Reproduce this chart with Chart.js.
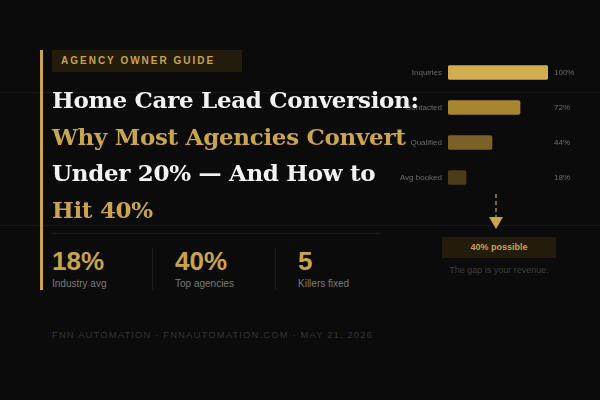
<!DOCTYPE html><html><head><meta charset="utf-8">
<script src="https://cdn.jsdelivr.net/npm/chart.js@4"></script>
<style>
body{margin:0;width:600px;height:400px;background:#0b0b0b;overflow:hidden;position:relative;font-family:"Liberation Sans",Arial,sans-serif}
.a{position:absolute}
#cw{left:390px;top:55px;width:210px;height:140px}
h1{position:absolute;left:52px;top:82px;margin:0;font-family:"DejaVu Serif",Georgia,serif;font-weight:bold;font-size:23px;line-height:36.5px;color:#f2f2f2;z-index:3;letter-spacing:-0.3px;white-space:nowrap}
.g{color:#caa54d}
</style></head><body>
<div class="a" style="left:0;top:92px;width:600px;height:1px;background:#161616"></div>
<div class="a" style="left:0;top:225px;width:600px;height:1px;background:#161616"></div>
<div class="a" style="left:40px;top:50px;width:3px;height:240px;background:#c9a449"></div>
<div class="a" style="left:52px;top:50px;width:190px;height:22px;background:#231b0c;color:#c9a449;font-size:10px;font-weight:bold;letter-spacing:2px;line-height:22px;text-indent:9px">AGENCY OWNER GUIDE</div>
<div class="a" id="cw"><canvas id="c"></canvas></div>
<h1>Home Care Lead Conversion:<br><span class="g">Why Most Agencies Convert</span><br>Under 20% — And How to<br><span class="g">Hit 40%</span></h1>
<div class="a" style="left:52px;top:233px;width:328px;height:1px;background:#1c1c1c"></div>
<div class="a" style="left:152px;top:248px;width:1px;height:42px;background:#1c1c1c"></div>
<div class="a" style="left:275px;top:248px;width:1px;height:42px;background:#1c1c1c"></div>
<div id="stats"></div>
<svg class="a" style="left:485px;top:192px" width="22" height="40"><line x1="11" y1="2" x2="11" y2="26" stroke="#7a6630" stroke-width="2" stroke-dasharray="4,3"/><polygon points="4,25 18,25 11,37" fill="#c9a449"/></svg>
<div class="a" style="left:442px;top:237px;width:114px;height:21px;background:#231b0c;color:#c9a449;font-size:9px;font-weight:bold;text-align:center;line-height:21px">40% possible</div>
<div class="a" style="left:440px;top:265px;width:118px;text-align:center;color:#3f3f3f;font-size:9px">The gap is your revenue.</div>
<div class="a" style="left:52px;top:329px;color:#333;font-size:9.5px;letter-spacing:1.1px">FNN AUTOMATION · FNNAUTOMATION.COM · MAY 21, 2026</div>
<script>
const categories=["Inquiries","Contacted","Qualified","Avg booked"];
const values=[100,72,44,18];
const barColors=["#d2ae50","#a8852f","#7a6126","#4c3c1a"];
const statValues=["18%","40%","5"];
const statLabels=["Industry avg","Top agencies","Killers fixed"];
const sx=[52,175,298];
document.getElementById('stats').innerHTML=statValues.map((v,i)=>`<div class="a" style="left:${sx[i]}px;top:246px;color:#c9a449;font-size:26px;font-weight:bold;line-height:30px">${v}</div><div class="a" style="left:${sx[i]}px;top:278px;color:#7a7a7a;font-size:10px">${statLabels[i]}</div>`).join('');
const lbl={id:'lbl',afterDatasetsDraw(ch){const c=ch.ctx,m=ch.getDatasetMeta(0);c.save();c.font='8px "Liberation Sans",Arial';c.textBaseline='middle';
m.data.forEach((b,i)=>{c.fillStyle='#6a6a6a';c.textAlign='right';c.fillText(categories[i],ch.chartArea.left-6,b.y);c.textAlign='left';c.fillText(values[i]+'%',ch.chartArea.right+6,b.y);});c.restore();}};
new Chart(document.getElementById('c'),{type:'bar',data:{labels:categories,datasets:[{data:values,backgroundColor:barColors,barThickness:14,borderRadius:2,borderSkipped:false}]},
options:{indexAxis:'y',responsive:true,maintainAspectRatio:false,animation:false,layout:{padding:{left:58,right:52,top:0,bottom:0}},
plugins:{legend:{display:false},tooltip:{enabled:false}},scales:{x:{display:false,min:0,max:100},y:{display:false}}},plugins:[lbl]});
</script></body></html>
